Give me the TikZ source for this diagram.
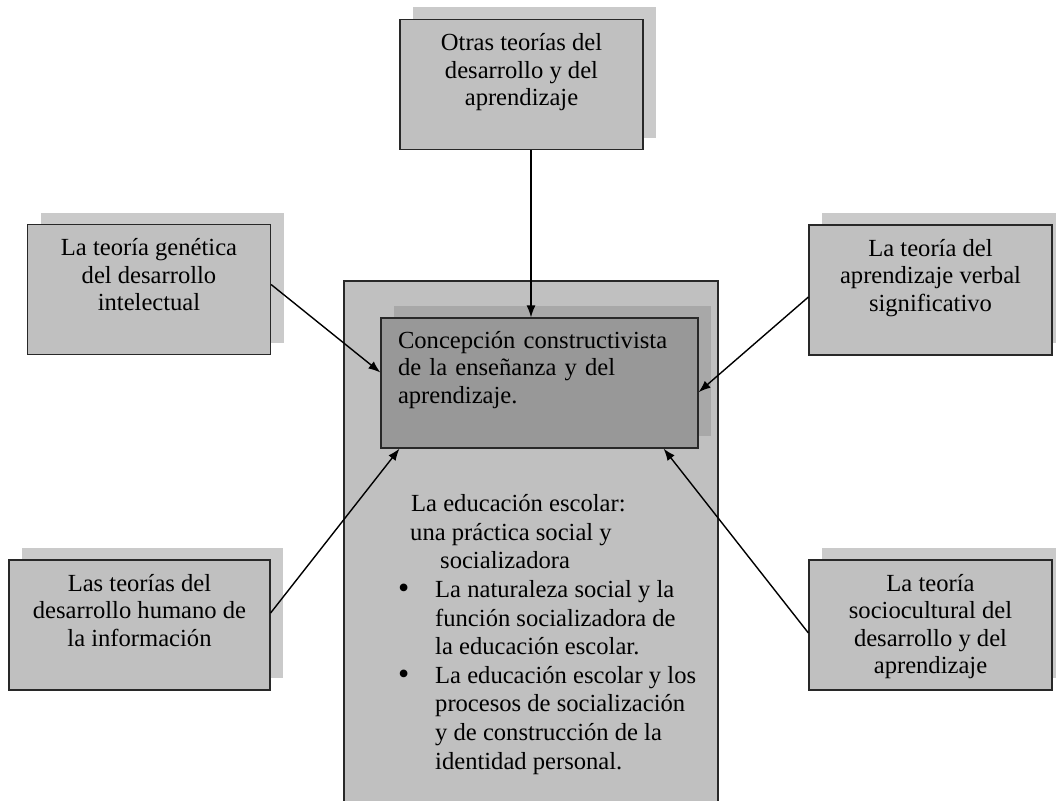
\documentclass[tikz,border=0pt]{standalone}
\usepackage{fontspec}
\setmainfont{Liberation Serif}
\usetikzlibrary{arrows.meta, positioning, shadows, calc}
\definecolor{boxgray}{RGB}{192,192,192}
\definecolor{shadegray}{RGB}{202,202,202}
\definecolor{deepgray}{RGB}{152,152,152}
\definecolor{deepshade}{RGB}{168,168,168}
\definecolor{linegray}{RGB}{40,40,40}
\newcommand{\bigdot}{\makebox[37pt][l]{\raisebox{-1.5pt}{\fontsize{32}{0}\selectfont\textbullet}}}

\begin{document}
\begin{tikzpicture}[
  x=1pt, y=-1pt,
  font=\fontsize{24.6}{27.6}\selectfont,
  box/.style={rectangle, draw=linegray, line width=1.2pt, fill=boxgray,
    minimum width=#1, align=center, inner xsep=4pt, inner ysep=0pt,
    text height=86.2pt, text depth=43.8pt,
    drop shadow={shadow xshift=13pt, shadow yshift=12pt, fill=shadegray, opacity=1}},
  box/.default=243pt,
  fourlines/.style={text height=113.8pt, text depth=16.2pt},
  core/.style={rectangle, draw=linegray, line width=1.2pt, fill=deepgray,
    text width=283pt, align=left, inner xsep=17pt, inner ysep=0pt,
    text height=30pt, text depth=100pt,
    drop shadow={shadow xshift=13pt, shadow yshift=12pt, fill=deepshade, opacity=1}},
  frame/.style={rectangle, draw=linegray, line width=1.2pt, fill=boxgray,
    minimum width=374pt, minimum height=540pt},
  arr/.style={-{Latex[length=12pt,width=9pt]}, draw=black, line width=1.4pt}
]
\useasboundingbox (0,0) rectangle (1056,800);
\clip (0,0) rectangle (1056,800);
\fill[white] (0,0) rectangle (1056,800);

% centre column
\node[frame] (outer) at (531,551) {};
\node[core] (inner) at (539.5,383) {Concepción constructivista\\de la enseñanza y del\\aprendizaje.};
\node[anchor=base west, inner sep=0pt, align=left,
  font=\fontsize{24.6}{28.6}\selectfont] (edu) at (398,769) {%
  \hspace*{13pt}La educación escolar:\\
  \hspace*{12pt}una práctica social y\\
  \hspace*{42pt}socializadora\\
  \bigdot La naturaleza social y la\\
  \hspace*{37pt}función socializadora de\\
  \hspace*{37pt}la educación escolar.\\
  \bigdot La educación escolar y los\\
  \hspace*{37pt}procesos de socialización\\
  \hspace*{37pt}y de construcción de la\\
  \hspace*{37pt}identidad personal.};

% theories round it
\node[box] (otras) at (521.5,84.5) {Otras teorías del\\desarrollo y del\\aprendizaje};
\node[box] (genetica) at (149,289.5) {La teoría genética\\del desarrollo\\intelectual};
\node[box] (verbal) at (930.5,290) {La teoría del\\aprendizaje verbal\\significativo};
\node[box=261pt] (humano) at (139.5,625) {Las teorías del\\desarrollo humano de\\la información};
\node[box, fourlines] (socio) at (930.5,625) {La teoría\\sociocultural del\\desarrollo y del\\aprendizaje};

\draw[arr] ([xshift=9.5pt]otras.south) -- ([xshift=9.5pt]otras.south |- inner.north);
\draw[arr] ([yshift=5pt]genetica.east) -- ($(inner.north west)!0.42!(inner.south west)$);
\draw[arr] ([yshift=-7pt]verbal.west) -- ($(inner.north east)!0.57!(inner.south east)$);
\draw[arr] ([yshift=12pt]humano.east) -- ($(inner.south west)!0.06!(inner.south east)$);
\draw[arr] ([yshift=-8pt]socio.west) -- ($(inner.south west)!0.89!(inner.south east)$);
\end{tikzpicture}
\end{document}
